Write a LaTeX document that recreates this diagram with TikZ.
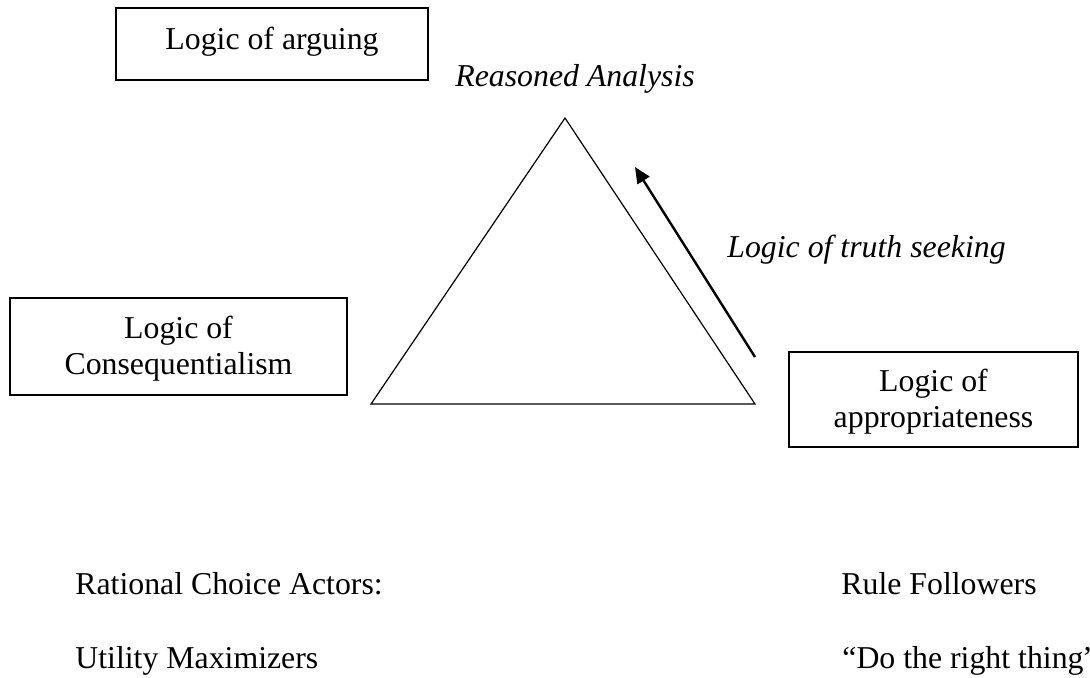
\documentclass[tikz,border=0pt]{standalone}
\usepackage{fontspec}
\setmainfont{Liberation Serif}
\usetikzlibrary{arrows.meta}
\begin{document}
\begin{tikzpicture}[x=0.5pt,y=-0.5pt,
  every node/.style={font=\fontsize{15.9}{18}\selectfont, inner sep=0pt},
  box/.style={draw, line width=0.75pt},
  boxtext/.style={align=center},
  lbl/.style={anchor=base west},
  tri/.style={line width=0.6pt, line join=miter},
  push/.style={line width=1.2pt, -{Triangle[length=8pt,width=7pt]}}]
\useasboundingbox (0,0) rectangle (1090,677);
% boxes
\node[box, minimum width=156pt, minimum height=36pt] (arguingbox) at (272,44) {};
\node[boxtext] (arguing) at (272,42) {Logic of arguing};
\node[box, minimum width=168.5pt, minimum height=48.5pt] (conseqbox) at (178.5,346.5) {};
\node[boxtext] (conseq) at (178.5,349) {Logic of\\Consequentialism};
\node[box, minimum width=144.5pt, minimum height=47.5pt] (appropbox) at (933.5,399.5) {};
\node[boxtext] (approp) at (933.5,402) {Logic of\\appropriateness};
% triangle
\coordinate (apex) at (565,118);
\coordinate (bl) at (371,404);
\coordinate (br) at (755,404);
\draw[tri] (apex) -- (br) -- (bl) -- cycle;
% arrow
\coordinate (arrtail) at (755,357);
\coordinate (arrhead) at (635,167);
\draw[push] (arrtail) -- (arrhead);
% labels
\node[lbl] (reasoned) at (455,86) {\itshape Reasoned Analysis};
\node[lbl] (truth) at (727,257) {\itshape Logic of truth seeking};
\node[lbl] (rational) at (75,594) {Rational Choice Actors:};
\node[lbl] (utility) at (75,668) {Utility Maximizers};
\node[lbl] (rule) at (841,594) {Rule Followers};
\node[lbl] (right) at (842,668) {“Do the right thing”};
\end{tikzpicture}
\end{document}
